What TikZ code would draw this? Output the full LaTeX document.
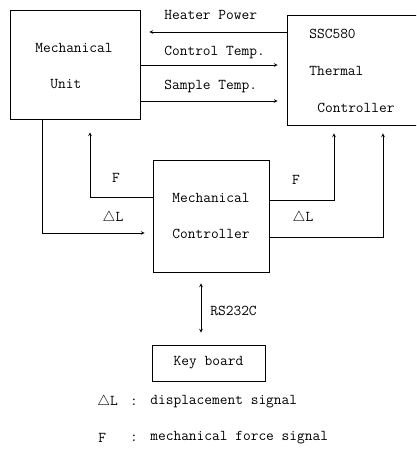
\documentclass[tikz,border=0pt]{standalone}
\usepackage{fontspec}
\setmonofont{Latin Modern Mono}
\begin{document}
\begin{tikzpicture}[x=1pt, y=-1pt, line width=0.7pt, >=stealth,
  box/.style={draw, inner sep=0pt},
  txt/.style={font=\fontsize{15}{36}\ttfamily, inner sep=0pt}]
  \useasboundingbox (0,0) rectangle (416,462);
  \clip (0,0) rectangle (416,462);

  % Mechanical Unit
  \node[box, minimum width=130pt, minimum height=109pt] (mu) at (75,64.5) {};
  \node[txt, align=left, anchor=west] (mutxt) at (35,66) {Mechanical\\\hspace{15pt}Unit};

  % SSC580 Thermal Controller
  \node[box, minimum width=140pt, minimum height=110pt] (ssc) at (357,70) {};
  \node[txt, align=left, anchor=west, font=\fontsize{15}{37}\ttfamily] (ssctxt) at (309,71) {SSC580\\Thermal\\\hspace{8pt}Controller};

  % Mechanical Controller
  \node[box, txt, align=center, minimum width=116pt, minimum height=112pt] (mc) at (211,216) {Mechanical\\Controller};

  % Key board
  \node[box, txt, minimum width=113pt, minimum height=36pt] (kb) at (208.5,363) {Key board};

  % Thermal signals
  \coordinate (hp) at (0,32);
  \coordinate (ct) at (0,65);
  \coordinate (st) at (0,101);
  \draw[->, shorten >=9pt] (ssc.west |- hp) -- (mu.east |- hp);
  \draw[->, shorten >=9pt] (mu.east |- ct) -- (ssc.west |- ct);
  \draw[->, shorten >=9pt] (mu.east |- st) -- (ssc.west |- st);
  \node[txt, anchor=west] (hptxt) at (164,15) {Heater Power};
  \node[txt, anchor=west] (cttxt) at (164,52) {Control Temp.};
  \node[txt, anchor=west] (sttxt) at (164,86) {Sample Temp.};

  % Mechanical Unit <-> Mechanical Controller
  \coordinate (dlu) at (42,233);
  \coordinate (fu) at (90,197);
  \draw[->, shorten >=8pt] (mu.south -| dlu) -- (dlu) -- (mc.west |- dlu);
  \draw[->, shorten >=13pt] (mc.west |- fu) -- (fu) -- (mu.south -| fu);
  \node[txt] (fl) at (116,178) {F};
  \node[txt] (dll) at (113,218) {$\triangle$L};

  % Mechanical Controller -> Thermal Controller
  \coordinate (fs) at (334,200);
  \coordinate (ds) at (383,237);
  \draw[->, shorten >=8pt] (mc.east |- fs) -- (fs) -- (ssc.south -| fs);
  \draw[->, shorten >=8pt] (mc.east |- ds) -- (ds) -- (ssc.south -| ds);
  \node[txt] (fr) at (296,180) {F};
  \node[txt] (dlr) at (303,218) {$\triangle$L};

  % RS232C
  \coordinate (rs) at (201,0);
  \draw[<->, shorten <=11pt, shorten >=12pt] (mc.south -| rs) -- (kb.north -| rs);
  \node[txt, anchor=west] (rstxt) at (210,311) {RS232C};

  % Legende
  \node[txt, anchor=west] (lgdl) at (97,402) {$\triangle$L};
  \node[txt] (lgdlc) at (134,402) {:};
  \node[txt, anchor=west] (lgdlt) at (150,402) {displacement signal};
  \node[txt, anchor=west] (lgdf) at (98,438) {F};
  \node[txt] (lgdfc) at (134,438) {:};
  \node[txt, anchor=west] (lgdft) at (150,438) {mechanical force signal};
\end{tikzpicture}
\end{document}
